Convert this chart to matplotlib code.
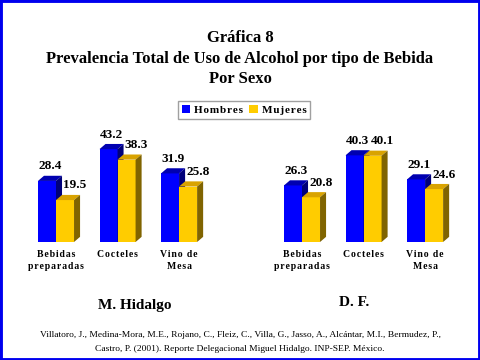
import matplotlib.pyplot as plt
from matplotlib.patches import Rectangle, Polygon

# data
categorias = ['Bebidas\npreparadas', 'Cocteles', 'Vino de\nMesa']
hidalgo_hombres = [28.4, 43.2, 31.9]
hidalgo_mujeres = [19.5, 38.3, 25.8]
df_hombres = [26.3, 40.3, 29.1]
df_mujeres = [20.8, 40.1, 24.6]
regiones = ['M. Hidalgo', 'D. F.']

azul = '#0000ff'
azul_top = '#0000b0'
azul_lado = '#00007a'
amarillo = '#ffcc00'
amarillo_top = '#d9a300'
amarillo_lado = '#806400'

serif = ['Liberation Serif', 'DejaVu Serif']
W = 480
H = 360
ancho = 0.293
dx = 0.098
dy = 2.4


def espaciado(txt):
    return '\n'.join('\u200a'.join(linea) for linea in txt.split('\n'))


def barra3d(ax, x0, h, c_frente, c_top, c_lado):
    ax.bar(x0, h, ancho, align='edge', color=c_frente, linewidth=0)
    ax.add_patch(Polygon([(x0, h), (x0 + dx, h + dy), (x0 + ancho + dx, h + dy), (x0 + ancho, h)],
                         closed=True, facecolor=c_top, edgecolor='none', clip_on=False))
    ax.add_patch(Polygon([(x0 + ancho, 0), (x0 + ancho + dx, dy), (x0 + ancho + dx, h + dy), (x0 + ancho, h)],
                         closed=True, facecolor=c_lado, edgecolor='none', clip_on=False))


def grafica(ax, hombres, mujeres):
    for i, (vh, vm) in enumerate(zip(hombres, mujeres)):
        barra3d(ax, i - ancho, vh, azul, azul_top, azul_lado)
        barra3d(ax, i, vm, amarillo, amarillo_top, amarillo_lado)
        ax.text(i - ancho / 2 + 0.05, vh + dy + 1.6, f'{vh:.1f}', ha='center', va='bottom',
                family=serif, fontweight='bold', fontsize=9.5)
        ax.text(i + ancho / 2 + 0.16, vm + dy + 1.6, f'{vm:.1f}', ha='center', va='bottom',
                family=serif, fontweight='bold', fontsize=9.5)
        ax.text(i, -3.6, espaciado(categorias[i]), ha='center', va='top', family=serif,
                fontweight='bold', fontsize=7, linespacing=1.45)
    ax.set_xlim(-0.585, 2.665)
    ax.set_ylim(0, 52)
    ax.axis('off')


fig = plt.figure(figsize=(4.8, 3.6), dpi=100)

ax1 = fig.add_axes([20 / W, (H - 242) / H, 200 / W, 111.8 / H])
ax2 = fig.add_axes([266 / W, (H - 242) / H, 200 / W, 111.8 / H])
grafica(ax1, hidalgo_hombres, hidalgo_mujeres)
grafica(ax2, df_hombres, df_mujeres)

fig.text(0.5, 1 - 38 / H, 'Gráfica 8', ha='center', va='center', family=serif, fontweight='bold', fontsize=12)
fig.text(0.5, 1 - 59 / H, 'Prevalencia Total de Uso de Alcohol por tipo de Bebida', ha='center', va='center',
         family=serif, fontweight='bold', fontsize=12)
fig.text(0.5, 1 - 79 / H, 'Por Sexo', ha='center', va='center', family=serif, fontweight='bold', fontsize=12)

fig.text(135 / W, 1 - 306 / H, regiones[0], ha='center', va='center', family=serif, fontweight='bold', fontsize=11)
fig.text(354 / W, 1 - 303 / H, regiones[1], ha='center', va='center', family=serif, fontweight='bold', fontsize=11)

fig.text(0.5, 1 - 335 / H, 'Villatoro, J., Medina-Mora, M.E., Rojano, C., Fleiz, C., Villa, G., Jasso, A., Alcántar, M.I., Bermudez, P.,',
         ha='center', va='center', family=serif, fontsize=6.8)
fig.text(0.5, 1 - 349 / H, 'Castro, P. (2001). Reporte Delegacional Miguel Hidalgo. INP-SEP. México.',
         ha='center', va='center', family=serif, fontsize=6.8)

handles = [Rectangle((0, 0), 1, 1, facecolor=azul), Rectangle((0, 0), 1, 1, facecolor=amarillo)]
leg = fig.legend(handles, [espaciado('Hombres'), espaciado('Mujeres')], loc='center', ncol=2,
                 bbox_to_anchor=(244 / W, 1 - 110 / H), frameon=True, fancybox=False,
                 prop={'family': serif, 'weight': 'bold', 'size': 8},
                 handlelength=0.8, handleheight=0.8, handletextpad=0.3, columnspacing=0.6,
                 borderpad=0.35, borderaxespad=0)
leg.get_frame().set_edgecolor('#888888')
leg.get_frame().set_linewidth(1)

fig.patches.append(Rectangle((0, 0), 1, 1, transform=fig.transFigure, fill=False,
                             edgecolor='#0000ee', linewidth=3.5))

fig.savefig('out.png', dpi=100)
